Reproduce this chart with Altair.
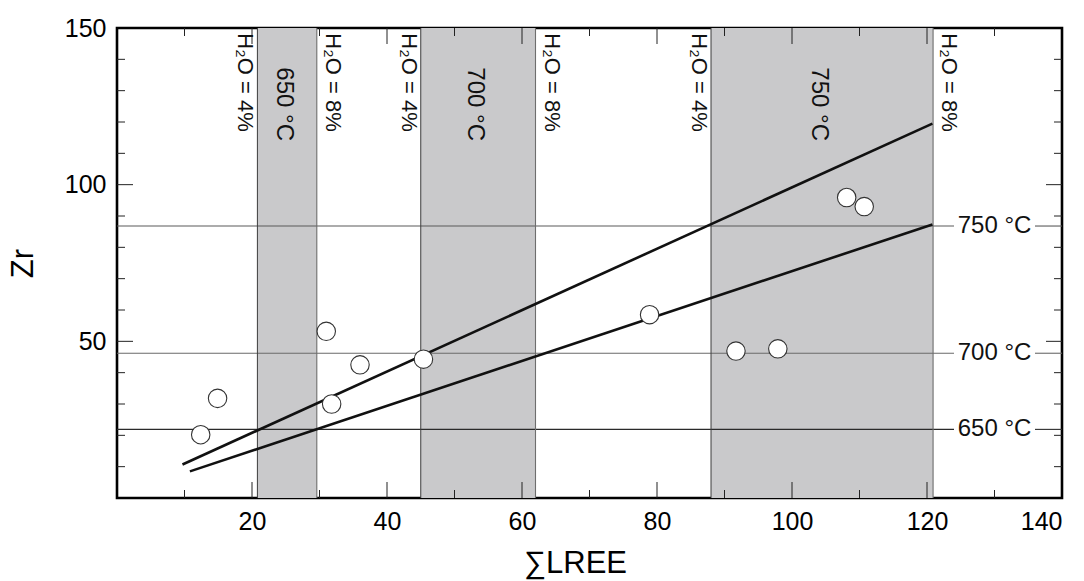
import altair as alt
import pandas as pd

# ---------------- data ----------------
x_major = [20, 40, 60, 80, 100, 120]
x_minor = [10, 30, 50, 70, 90, 110, 130]
y_major = [50, 100]
y_minor = [10, 20, 30, 40, 60, 70, 80, 90, 110, 120, 130, 140]
x_labels = [20, 40, 60, 80, 100, 120, 140]
y_labels = [50, 100, 150]

temps = ["650 °C", "700 °C", "750 °C"]
band_lo = [20.8, 45.0, 88.0]      # H2O = 4 %
band_hi = [29.6, 62.0, 120.9]     # H2O = 8 %
iso_y = [21.9, 46.2, 86.8]        # Zr saturation levels
iso_color = ["#2a2a2a", "#6a6a6a", "#5a5a5a"]
gap_lo, gap_hi = 124.0, 136.0     # gap in the isotherm lines for the labels
temp_label_x = 130.0
band_label_y = 125.7
h2o_label_y = 148.3

line4_x = [9.7, 120.8]
line4_y = [10.7, 119.5]
line8_x = [10.8, 120.8]
line8_y = [8.5, 87.3]

pts_x = [12.4, 14.9, 31.0, 31.8, 36.0, 45.4, 78.9, 91.7, 97.9, 108.1, 110.7]
pts_y = [20.2, 31.8, 53.2, 30.0, 42.5, 44.3, 58.5, 46.9, 47.6, 95.9, 93.0]

# ---------------- layout ----------------
W, H = 945, 470
FONT = "Liberation Sans"
xs = alt.Scale(domain=[0, 140], nice=False, zero=False)
ys = alt.Scale(domain=[0, 150], nice=False, zero=False)

XAX = alt.Axis(values=x_labels, ticks=False, domain=False, grid=False,
               labelFontSize=25, labelFont=FONT, labelColor="black",
               labelPadding=11, titleFontSize=31, titleFont=FONT,
               titleFontWeight="normal", titleColor="black",
               titlePadding=14, titleX=458)
YAX = alt.Axis(values=y_labels, ticks=False, domain=False, grid=False,
               labelFontSize=25, labelFont=FONT, labelColor="black",
               labelPadding=11, titleFontSize=31, titleFont=FONT,
               titleFontWeight="normal", titleColor="black",
               titlePadding=25)


def X(f):
    return alt.X(f, type="quantitative", scale=xs, axis=XAX, title="∑LREE")


def Y(f):
    return alt.Y(f, type="quantitative", scale=ys, axis=YAX, title="Zr")


bands = pd.DataFrame({"lo": band_lo, "hi": band_hi, "temp": temps,
                      "mid": [(a + b) / 2 for a, b in zip(band_lo, band_hi)]})

band_rect = alt.Chart(bands).mark_rect(color="#c9c9cb").encode(
    x=X("lo"), x2="hi:Q", y=alt.value(0), y2=alt.value(H))

edge_lo = alt.Chart(pd.DataFrame({"e": band_lo})).mark_rule(
    color="#3c3c3c", strokeWidth=1).encode(
    x=X("e"), y=alt.value(0), y2=alt.value(H))
edge_hi = alt.Chart(pd.DataFrame({"e": band_hi})).mark_rule(
    color="#6e6e6e", strokeWidth=1.1).encode(
    x=X("e"), y=alt.value(0), y2=alt.value(H))

iso_rows = []
for t, yv, c in zip(temps, iso_y, iso_color):
    iso_rows.append({"x0": 0, "x1": gap_lo, "y": yv, "c": c})
    iso_rows.append({"x0": gap_hi, "x1": 140, "y": yv, "c": c})
iso = pd.DataFrame(iso_rows)
iso_rules = alt.Chart(iso).mark_rule(strokeWidth=1.1).encode(
    x=X("x0"), x2="x1:Q", y=Y("y"),
    color=alt.Color("c:N", scale=None))

lines_df = pd.DataFrame({
    "x": line4_x + line8_x,
    "y": line4_y + line8_y,
    "s": ["4"] * len(line4_x) + ["8"] * len(line8_x)})
lines = alt.Chart(lines_df).mark_line(color="#111111", strokeWidth=2.6).encode(
    x=X("x"), y=Y("y"), detail="s:N")

pts = pd.DataFrame({"x": pts_x, "y": pts_y})
points = alt.Chart(pts).mark_point(shape="circle", filled=True, fill="white",
                                   stroke="#333333", strokeWidth=1.1,
                                   opacity=1, size=340).encode(
    x=X("x"), y=Y("y"))


def tick_layer(vals, side, length):
    df = pd.DataFrame({"v": vals})
    base = alt.Chart(df).mark_rule(color="#222222", strokeWidth=1)
    if side == "bottom":
        return base.encode(x=X("v"), y=alt.value(H), y2=alt.value(H - length))
    if side == "top":
        return base.encode(x=X("v"), y=alt.value(0), y2=alt.value(length))
    if side == "left":
        return base.encode(y=Y("v"), x=alt.value(0), x2=alt.value(length))
    return base.encode(y=Y("v"), x=alt.value(W), x2=alt.value(W - length))


ticks = []
for side in ["bottom", "top"]:
    ticks.append(tick_layer(x_major, side, 16))
    ticks.append(tick_layer(x_minor, side, 8))
for side in ["left", "right"]:
    ticks.append(tick_layer(y_major, side, 16))
    ticks.append(tick_layer(y_minor, side, 8))

bands["yl"] = band_label_y
bands["yh"] = h2o_label_y
bands["h4"] = "H₂O = 4%"
bands["h8"] = "H₂O = 8%"

temp_text = alt.Chart(bands).mark_text(
    angle=90, align="center", baseline="alphabetic", dy=10,
    fontSize=24, font=FONT, color="#111111").encode(
    x=X("mid"), y=Y("yl"), text="temp:N")

h4_text = alt.Chart(bands).mark_text(
    angle=90, align="left", baseline="alphabetic", dy=19,
    fontSize=22, font=FONT, color="#111111").encode(
    x=X("lo"), y=Y("yh"), text="h4:N")

h8_text = alt.Chart(bands).mark_text(
    angle=90, align="left", baseline="alphabetic", dy=-9,
    fontSize=22, font=FONT, color="#111111").encode(
    x=X("hi"), y=Y("yh"), text="h8:N")

iso_lab = pd.DataFrame({"t": temps, "y": iso_y, "x": [temp_label_x] * 3})
iso_text = alt.Chart(iso_lab).mark_text(
    align="center", baseline="middle", fontSize=24, font=FONT,
    color="#111111").encode(
    x=X("x"), y=Y("y"), text="t:N")

chart = alt.layer(
    band_rect, iso_rules, edge_lo, edge_hi, lines, points, *ticks,
    temp_text, h4_text, h8_text, iso_text
).properties(
    width=W, height=H,
    autosize=alt.AutoSizeParams(type="none"),
    padding={"left": 117, "top": 28, "right": 22, "bottom": 83},
    background="white"
).configure_view(stroke="black", strokeWidth=2.6)

chart.save("out.html", embed_options={"renderer": "svg", "actions": False})
